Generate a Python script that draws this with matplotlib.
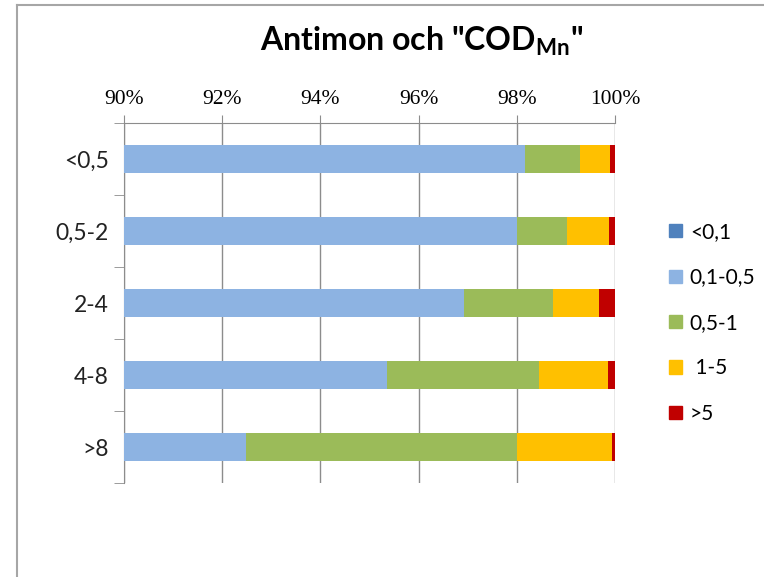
import matplotlib.pyplot as plt
import numpy as np
from matplotlib.patches import Patch
from matplotlib.lines import Line2D

plt.rcParams['mathtext.fontset'] = 'custom'
plt.rcParams['mathtext.rm'] = 'Lato'
plt.rcParams['mathtext.bf'] = 'Lato:bold'

categories = ['<0,5', '0,5-2', '2-4', '4-8', '>8']
series_labels = ['<0,1', '0,1-0,5', '0,5-1', ' 1-5', '>5']

# share of samples (%) in each concentration class
lt_01 = [0.0, 0.0, 0.0, 0.0, 0.0]
b01_05 = [98.17, 98.00, 96.93, 95.35, 92.49]
b05_1 = [1.12, 1.02, 1.81, 3.10, 5.52]
b1_5 = [0.61, 0.86, 0.93, 1.40, 1.92]
gt_5 = [0.10, 0.12, 0.33, 0.15, 0.07]

colors = ['#4F81BD', '#8DB3E2', '#9BBB59', '#FFC000', '#C00000']
grid_col = '#8C8C8C'

fig = plt.figure(figsize=(7.64, 5.77), dpi=100)
ax = fig.add_axes([124 / 764, 1 - 483 / 577, (615 - 124) / 764, (483 - 123) / 577])

y = np.arange(len(categories))
left = np.zeros(len(categories))
for vals, lab, col in zip([lt_01, b01_05, b05_1, b1_5, gt_5], series_labels, colors):
    ax.barh(y, vals, left=left, height=0.4, color=col, label=lab, zorder=3)
    left += np.array(vals)

ax.set_xlim(90, 100)
ax.set_ylim(len(categories) - 0.5, -0.5)

ax.xaxis.tick_top()
ax.set_xticks(np.arange(90, 101, 2))
ax.set_xticklabels([f'{v}%' for v in range(90, 101, 2)], family='Liberation Serif', fontsize=15.5)
ax.tick_params(axis='x', length=6, color=grid_col, pad=4)
ax.grid(axis='x', color=grid_col, lw=1, zorder=0)

ax.set_yticks(y)
ax.set_yticklabels(categories, family='Lato', fontsize=16.5, color='#222222')
ax.set_yticks(np.arange(-0.5, len(categories), 1), minor=True)
ax.tick_params(axis='y', which='major', length=0, pad=11)
ax.tick_params(axis='y', which='minor', length=7, color=grid_col)

for s in ['right', 'bottom']:
    ax.spines[s].set_visible(False)
for s in ['top', 'left']:
    ax.spines[s].set_color(grid_col)

handles = [Patch(color=c) for c in colors]
fig.legend(handles, series_labels, loc='center left', bbox_to_anchor=(669 / 764, 1 - 323 / 577),
           frameon=False, borderpad=0, borderaxespad=0, prop={'family': 'Lato', 'size': 15},
           handlelength=0.6, handleheight=0.6, handletextpad=0.4, labelspacing=1.22)

fig.text(422 / 764, 1 - 41 / 577, r'Antimon och "COD$_{\mathbf{Mn}}$"',
         ha='center', va='center', family='Lato', weight='bold', fontsize=23)

# chart-area frame (left and top edges)
fx, fy = 17 / 764, 1 - 5 / 577
fig.add_artist(Line2D([fx, fx], [0, fy], transform=fig.transFigure, color='#A6A6A6', lw=1.5))
fig.add_artist(Line2D([fx, 1], [fy, fy], transform=fig.transFigure, color='#A6A6A6', lw=1.5))

fig.savefig('out.png', dpi=100)
